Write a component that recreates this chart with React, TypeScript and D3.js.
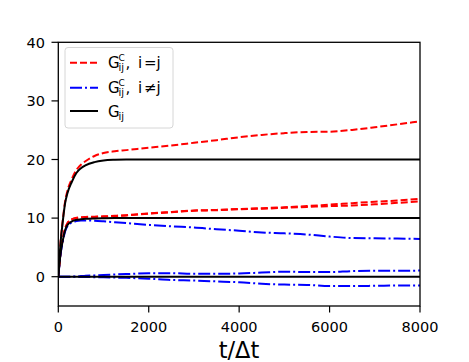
import React from 'react';
import * as d3 from 'd3';

// time steps (t / Δt) where values were read
const steps = [0, 50, 100, 150, 200, 300, 400, 500, 600, 800, 1000, 1250, 1500, 2000, 2500, 3000, 3500, 4000, 4500, 5000, 5500, 6000, 6500, 7000, 7500, 8000];

// G^C_ij, i = j  (red dashed)
const redTop = [0, 5.9, 9.7, 12.8, 14.6, 16.7, 18.2, 19.1, 19.7, 20.6, 21.1, 21.4, 21.6, 22.0, 22.4, 22.85, 23.3, 23.8, 24.2, 24.5, 24.7, 24.75, 25.05, 25.5, 26.0, 26.5];
const redMidA = [0, 4.0, 6.4, 8.2, 9.1, 9.8, 10.05, 10.15, 10.2, 10.25, 10.3, 10.4, 10.5, 10.8, 11.05, 11.3, 11.4, 11.55, 11.7, 11.85, 12.05, 12.3, 12.55, 12.8, 13.0, 13.3];
const redMidB = [0, 4.0, 6.4, 8.2, 9.1, 9.8, 10.0, 10.1, 10.15, 10.2, 10.25, 10.35, 10.45, 10.75, 11.0, 11.25, 11.35, 11.5, 11.6, 11.75, 11.9, 12.05, 12.15, 12.35, 12.6, 12.85];

// G^C_ij, i != j  (blue dash-dot)
const blueTop = [0, 3.8, 6.0, 7.7, 8.6, 9.25, 9.5, 9.6, 9.6, 9.55, 9.45, 9.3, 9.15, 8.85, 8.6, 8.4, 8.1, 7.85, 7.55, 7.4, 7.2, 6.85, 6.6, 6.55, 6.5, 6.45];
const blueUp = [0, 0, 0, 0, 0, 0.02, 0.05, 0.1, 0.15, 0.22, 0.3, 0.38, 0.45, 0.6, 0.6, 0.5, 0.5, 0.55, 0.7, 0.85, 0.8, 0.8, 0.95, 1.0, 1.0, 1.05];
const blueDown = [0, 0, 0, 0, 0, 0, -0.02, -0.05, -0.06, -0.08, -0.1, -0.15, -0.2, -0.35, -0.55, -0.65, -0.8, -0.95, -1.2, -1.35, -1.4, -1.6, -1.6, -1.55, -1.5, -1.5];

// G_ij  (black solid)
const blackTop = [0, 5.8, 9.5, 12.5, 14.2, 16.2, 17.7, 18.5, 19.0, 19.55, 19.82, 19.95, 20, 20, 20, 20, 20, 20, 20, 20, 20, 20, 20, 20, 20, 20];
const blackMid = [0, 3.9, 6.2, 7.9, 8.8, 9.45, 9.7, 9.8, 9.88, 9.95, 9.98, 10, 10, 10, 10, 10, 10, 10, 10, 10, 10, 10, 10, 10, 10, 10];
const blackZero = [0, 0, 0, 0, 0, 0, 0, 0, 0, 0, 0, 0, 0, 0, 0, 0, 0, 0, 0, 0, 0, 0, 0, 0, 0, 0];

const xTicks = [0, 2000, 4000, 6000, 8000];
const yTicks = [0, 10, 20, 30, 40];

const W = 469, H = 362;
const font = 'DejaVu Sans';
const lw = 2;

const x = d3.scaleLinear().domain([0, 8000]).range([58.3, 420]);
const y = d3.scaleLinear().domain([-5, 40]).range([306, 42.3]);

const line = d3.line<number>()
  .x((d, i) => x(steps[i]))
  .y(d => y(d))
  .curve(d3.curveMonotoneX);

const styles: Record<string, { color: string; dash: string }> = {
  red: { color: '#ff0000', dash: '7,3' },
  blue: { color: '#0000ff', dash: '12,3,2,3' },
  black: { color: '#000000', dash: '' },
};

const series = [
  { vals: redTop, s: 'red' },
  { vals: redMidA, s: 'red' },
  { vals: redMidB, s: 'red' },
  { vals: blueTop, s: 'blue' },
  { vals: blueUp, s: 'blue' },
  { vals: blueDown, s: 'blue' },
  { vals: blackTop, s: 'black' },
  { vals: blackMid, s: 'black' },
  { vals: blackZero, s: 'black' },
];

function LegendLabel({ cy, sup, rel }: { cy: number; sup: boolean; rel?: string }) {
  return (
    <g fontFamily={font} fill="#000">
      <text x={108} y={cy + 5.5} fontSize={15}>G</text>
      {sup && <text x={118.5} y={cy - 2} fontSize={9}>C</text>}
      <text x={118.5} y={cy + 8.5} fontSize={10}>ij</text>
      {rel && (
        <>
          <text x={125.5} y={cy + 5.5} fontSize={15}>,</text>
          <text x={138} y={cy + 5.5} fontSize={15}>i</text>
          <text x={144} y={cy + 5.5} fontSize={15}>{rel}</text>
          <text x={156.5} y={cy + 5.5} fontSize={15}>j</text>
        </>
      )}
    </g>
  );
}

export default function App() {
  return (
    <svg width={W} height={H} style={{ position: 'absolute', left: 0, top: 0 }}>
      <rect width={W} height={H} fill="#fff" />
      <defs>
        <clipPath id="plot">
          <rect x={58.3} y={42.3} width={420 - 58.3} height={306 - 42.3} />
        </clipPath>
      </defs>
      <g clipPath="url(#plot)">
        {series.map((d, i) => (
          <path key={i} d={line(d.vals) || ''} fill="none"
            stroke={styles[d.s].color} strokeWidth={lw}
            strokeDasharray={styles[d.s].dash || undefined} />
        ))}
      </g>
      {/* frame */}
      <rect x={58.3} y={42.3} width={420 - 58.3} height={306 - 42.3} fill="none" stroke="#000" strokeWidth={1.3} />
      {/* x axis */}
      {xTicks.map(t => (
        <g key={t}>
          <line x1={x(t)} x2={x(t)} y1={306} y2={312.5} stroke="#000" strokeWidth={1.2} />
          <text x={x(t)} y={332} textAnchor="middle" fontFamily={font} fontSize={14.5}>{t}</text>
        </g>
      ))}
      {yTicks.map(t => (
        <g key={t}>
          <line x1={51.5} x2={58.3} y1={y(t)} y2={y(t)} stroke="#000" strokeWidth={1.2} />
          <text x={45} y={y(t)} dy="0.36em" textAnchor="end" fontFamily={font} fontSize={14.5}>{t}</text>
        </g>
      ))}
      <text x={239} y={358} textAnchor="middle" fontFamily={font} fontSize={22.5}>t/Δt</text>
      {/* legend */}
      <rect x={65} y={47.5} width={108} height={80.5} rx={3} fill="#fff" fillOpacity={0.8} stroke="#d6d6d6" strokeWidth={1} />
      <line x1={70} x2={98} y1={62.7} y2={62.7} stroke={styles.red.color} strokeWidth={lw} strokeDasharray={styles.red.dash} />
      <line x1={70} x2={98} y1={87.7} y2={87.7} stroke={styles.blue.color} strokeWidth={lw} strokeDasharray={styles.blue.dash} />
      <line x1={70} x2={98} y1={111} y2={111} stroke={styles.black.color} strokeWidth={lw} />
      <LegendLabel cy={62.7} sup rel="=" />
      <LegendLabel cy={87.7} sup rel="≠" />
      <LegendLabel cy={111} sup={false} />
    </svg>
  );
}
